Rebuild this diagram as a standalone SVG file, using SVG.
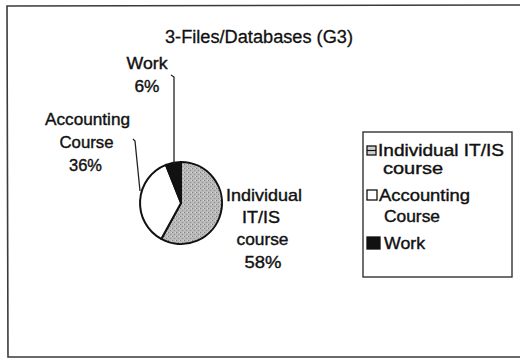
<svg xmlns="http://www.w3.org/2000/svg" width="520" height="358" viewBox="0 0 520 358">
  <style>
    .t { font-family: "Liberation Sans", Arial, sans-serif; font-size: 17px; fill: #111; stroke: #111; stroke-width: 0.4; }
    .title { font-size: 18px; stroke-width: 0.3; }
    .mid { text-anchor: middle; }
    .frame { fill: none; stroke: #3a3a3a; stroke-width: 1.6; }
    .slice { stroke: #111; stroke-width: 2; stroke-linejoin: round; }
    .leader { fill: none; stroke: #222; stroke-width: 1.3; }
    .key { stroke: #111; stroke-width: 1.3; }
  </style>
  <defs>
    <pattern id="stipple" width="4" height="4" patternUnits="userSpaceOnUse">
      <rect width="4" height="4" fill="#bababa"/>
      <rect x="0" y="0" width="1" height="1" fill="#808080"/>
      <rect x="2" y="2" width="1" height="1" fill="#909090"/>
      <rect x="3" y="0" width="1" height="1" fill="#d6d6d6"/>
    </pattern>
  </defs>

  <rect width="520" height="358" fill="#ffffff"/>

  <!-- chart frame (right side runs off the page) -->
  <path class="frame" d="M520,5 L7,6 L8,357 L520,357"/>

  <text class="t title mid" x="259" y="43" textLength="188" lengthAdjust="spacingAndGlyphs">3-Files/Databases (G3)</text>

  <!-- pie chart -->
  <g id="pie">
    <g id="slice-individual">
      <path class="slice" fill="url(#stipple)" d="M181,203 L161.25,238.93 A41,41 0 1 0 181,162 Z"/>
    </g>
    <g id="slice-accounting">
      <path class="slice" fill="#ffffff" d="M181,203 L165.9,164.9 A41,41 0 0 0 161.25,238.93 Z"/>
    </g>
    <g id="slice-work">
      <path class="slice" fill="#111111" d="M181,203 L181,162 A41,41 0 0 0 165.9,164.9 Z"/>
    </g>
  </g>

  <!-- leader lines -->
  <g id="connectors">
    <path class="leader" d="M171,75 L174,77 L174,164"/>
    <path class="leader" d="M133,139 L135,141 L140,191"/>
  </g>

  <!-- data labels -->
  <g id="label-work">
    <text class="t mid" x="147" y="69" textLength="41" lengthAdjust="spacingAndGlyphs">Work</text>
    <text class="t mid" x="147" y="92" textLength="25" lengthAdjust="spacingAndGlyphs">6%</text>
  </g>
  <g id="label-accounting">
    <text class="t mid" x="87.5" y="125" textLength="85" lengthAdjust="spacingAndGlyphs">Accounting</text>
    <text class="t mid" x="86.5" y="148" textLength="54" lengthAdjust="spacingAndGlyphs">Course</text>
    <text class="t mid" x="85.5" y="171" textLength="33" lengthAdjust="spacingAndGlyphs">36%</text>
  </g>
  <g id="label-individual">
    <text class="t mid" x="264" y="201" textLength="76" lengthAdjust="spacingAndGlyphs">Individual</text>
    <text class="t mid" x="261" y="223" textLength="38" lengthAdjust="spacingAndGlyphs">IT/IS</text>
    <text class="t mid" x="262.5" y="245" textLength="52" lengthAdjust="spacingAndGlyphs">course</text>
    <text class="t mid" x="263" y="268" textLength="37" lengthAdjust="spacingAndGlyphs">58%</text>
  </g>

  <!-- legend -->
  <g id="legend">
    <rect x="363" y="132" width="149" height="145" fill="#ffffff" stroke="#333" stroke-width="1.4"/>
    <rect class="key" x="367" y="146" width="9" height="9" fill="#d0d0d0"/>
    <line x1="367" y1="150.5" x2="376" y2="150.5" stroke="#111" stroke-width="1.2"/>
    <text class="t" x="378" y="156" textLength="126" lengthAdjust="spacingAndGlyphs">Individual IT/IS</text>
    <text class="t" x="383" y="174" textLength="60" lengthAdjust="spacingAndGlyphs">course</text>

    <rect class="key" x="367" y="190" width="10" height="10" fill="#ffffff"/>
    <text class="t" x="379" y="201" textLength="91" lengthAdjust="spacingAndGlyphs">Accounting</text>
    <text class="t" x="384" y="222" textLength="56" lengthAdjust="spacingAndGlyphs">Course</text>

    <rect class="key" x="367" y="237" width="13" height="12" fill="#111111"/>
    <text class="t" x="384" y="249" textLength="41" lengthAdjust="spacingAndGlyphs">Work</text>
  </g>
</svg>
